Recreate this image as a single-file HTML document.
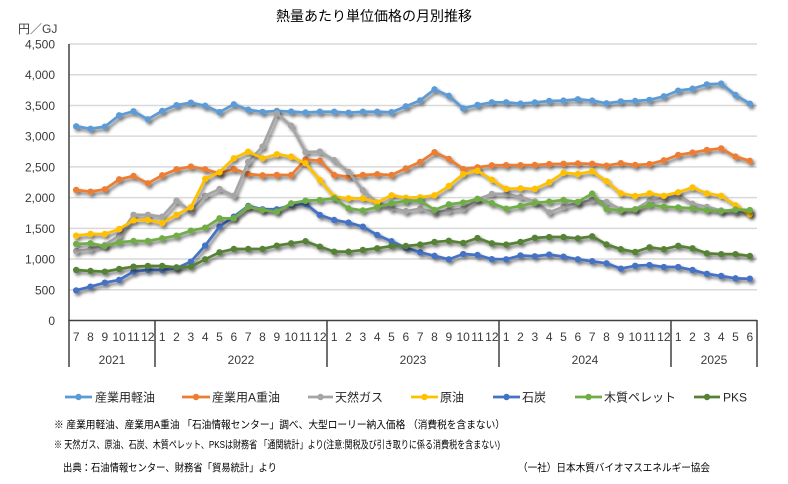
<!DOCTYPE html>
<html>
<head>
<meta charset="utf-8">
<style>
  html, body { margin:0; padding:0; background:#fff; }
  body { width:788px; height:484px; overflow:hidden; }
  svg { display:block; font-family:"Liberation Sans","Noto Sans CJK JP",sans-serif; }
  .ax { fill:#3a3a3a; font-size:12px; }
  .lg { fill:#262626; font-size:12px; }
  .nt { fill:#000; font-size:10.5px; }
</style>
</head>
<body>
<svg id="chart" width="788" height="484" viewBox="0 0 788 484" xmlns="http://www.w3.org/2000/svg">
  <defs>
    <filter id="sh" x="-5%" y="-20%" width="115%" height="160%">
      <feGaussianBlur in="SourceAlpha" stdDeviation="1.5"/>
      <feOffset dx="2" dy="2.5" result="o"/>
      <feComponentTransfer><feFuncA type="linear" slope="0.55"/></feComponentTransfer>
      <feMerge><feMergeNode/><feMergeNode in="SourceGraphic"/></feMerge>
    </filter>
  </defs>
  <rect width="788" height="484" fill="#fff"/>
  <text x="374" y="21" text-anchor="middle" font-size="14" fill="#000">熱量あたり単位価格の月別推移</text>
  <text x="18" y="33" font-size="12" fill="#404040">円／GJ</text>
  <g id="grid"></g>
  <g id="series"></g>
  <g id="axes"></g>
  <g id="legend"></g>
  <text class="nt" x="54" y="428" textLength="451" lengthAdjust="spacingAndGlyphs">※ 産業用軽油、産業用A重油 「石油情報センター」調べ、大型ローリー納入価格 （消費税を含まない）</text>
  <text class="nt" x="54" y="448" textLength="446" lengthAdjust="spacingAndGlyphs">※ 天然ガス、原油、石炭、木質ペレット、PKSは財務省 「通関統計」より(注意:関税及び引き取りに係る消費税を含まない)</text>
  <text class="nt" x="63" y="471" textLength="214" lengthAdjust="spacingAndGlyphs">出典：石油情報センター、財務省「貿易統計」より</text>
  <text class="nt" x="518" y="471" textLength="192" lengthAdjust="spacingAndGlyphs">（一社）日本木質バイオマスエネルギー協会</text>
</svg>
<script>
(function(){
  var NS = "http://www.w3.org/2000/svg";
  function el(tag, attrs, parent, txt){
    var e = document.createElementNS(NS, tag);
    for (var k in attrs) e.setAttribute(k, attrs[k]);
    if (txt !== undefined) e.textContent = txt;
    parent.appendChild(e);
    return e;
  }
  var X = function(i){ return 69 + (i + 0.5) * 688 / 48; };
  var Y = function(v){ return 320.5 - v * 276.5 / 4500; };
  var grid = document.getElementById('grid');
  var axes = document.getElementById('axes');
  for (var v = 500; v <= 4500; v += 500) {
    el('line', {x1:69, x2:757, y1:Y(v), y2:Y(v), stroke:'#d9d9d9', 'stroke-width':1.5}, grid);
  }
  for (var v = 0; v <= 4500; v += 500) {
    var s = v >= 1000 ? (Math.floor(v/1000) + ',' + ('00' + (v%1000)).slice(-3)) : String(v);
    el('text', {x:55, y:Y(v)+4.5, 'text-anchor':'end', 'class':'ax'}, axes, s);
  }
  el('line', {x1:69, x2:69, y1:44, y2:321, stroke:'#404040', 'stroke-width':1.5}, axes);
  el('line', {x1:69, x2:757, y1:320.5, y2:320.5, stroke:'#404040', 'stroke-width':1.5}, axes);
  [69,155,327,499,671,757].forEach(function(x){
    el('line', {x1:x, x2:x, y1:320, y2:367, stroke:'#404040', 'stroke-width':1.5}, axes);
  });
  var months = [7,8,9,10,11,12];
  for (var y = 0; y < 3; y++) for (var m = 1; m <= 12; m++) months.push(m);
  for (var m = 1; m <= 6; m++) months.push(m);
  months.forEach(function(m, i){
    el('text', {x:X(i), y:341, 'text-anchor':'middle', 'class':'ax'}, axes, String(m));
  });
  [[112,'2021'],[241,'2022'],[413,'2023'],[585,'2024'],[714,'2025']].forEach(function(a){
    el('text', {x:a[0], y:364, 'text-anchor':'middle', 'class':'ax'}, axes, a[1]);
  });

  var data = [
    ['#5B9BD5', [3160,3120,3155,3340,3405,3275,3410,3505,3545,3495,3392,3518,3430,3395,3410,3400,3385,3398,3398,3382,3398,3398,3390,3485,3582,3762,3656,3453,3508,3550,3550,3530,3548,3573,3579,3600,3579,3535,3565,3573,3590,3648,3741,3772,3842,3855,3670,3528]],
    ['#ED7D31', [2124,2097,2135,2297,2352,2233,2363,2460,2505,2460,2393,2466,2385,2363,2368,2368,2620,2600,2368,2340,2368,2380,2368,2475,2580,2740,2630,2465,2492,2525,2528,2528,2531,2545,2550,2555,2550,2520,2560,2531,2545,2606,2694,2732,2775,2801,2667,2598]],
    ['#A5A5A5', [1130,1160,1230,1380,1720,1720,1690,1950,1780,2030,2140,2030,2580,2830,3370,3170,2740,2750,2610,2420,2120,1920,1830,1780,1820,1760,1790,1820,1970,2060,2060,2010,1940,1760,1850,1910,1960,1930,1810,1810,1950,1990,2040,1900,1850,1790,1770,1755]],
    ['#FFC000', [1381,1408,1408,1489,1630,1636,1587,1722,1845,2305,2414,2640,2748,2640,2705,2668,2558,2287,2015,1988,1988,1923,2038,1998,2005,2038,2189,2384,2439,2292,2143,2151,2143,2250,2405,2385,2428,2268,2070,2026,2070,2030,2087,2165,2070,2030,1875,1730]],
    ['#4472C4', [490,551,616,660,795,822,822,850,958,1220,1527,1690,1864,1810,1810,1880,1900,1717,1636,1593,1527,1392,1290,1185,1110,1052,995,1082,1066,998,996,1058,1045,1072,1039,996,965,931,844,890,903,870,870,822,760,724,686,680]],
    ['#70AD47', [1245,1256,1213,1272,1294,1294,1337,1381,1462,1511,1663,1663,1852,1798,1771,1907,1950,1960,1988,1826,1790,1844,1910,1940,1950,1800,1890,1920,1980,1910,1820,1866,1915,1934,1961,1930,2065,1815,1790,1810,1880,1853,1840,1826,1795,1780,1805,1798]],
    ['#548235', [822,806,795,838,876,887,887,865,876,996,1110,1164,1164,1164,1218,1256,1290,1202,1120,1120,1148,1175,1213,1213,1235,1278,1297,1262,1342,1256,1235,1278,1345,1358,1358,1337,1370,1237,1160,1115,1191,1160,1215,1175,1093,1080,1080,1050]]
  ];
  var sg = document.getElementById('series');
  data.forEach(function(d){
    var g = el('g', {filter:'url(#sh)'}, sg);
    var pts = d[1].map(function(v,i){ return X(i).toFixed(2)+','+Y(v).toFixed(2); }).join(' ');
    el('polyline', {points:pts, fill:'none', stroke:d[0], 'stroke-width':2.75, 'stroke-linejoin':'round', 'stroke-linecap':'round'}, g);
    d[1].forEach(function(v,i){
      el('circle', {cx:X(i).toFixed(2), cy:Y(v).toFixed(2), r:3.2, fill:d[0]}, g);
    });
  });

  var lg = document.getElementById('legend');
  var items = [
    [65,92,95,'産業用軽油'],
    [182,210,212,'産業用A重油'],
    [308,333,335,'天然ガス'],
    [411,438,440,'原油'],
    [493,520,522,'石炭'],
    [575,602,604,'木質ペレット'],
    [694,720,723,'PKS']
  ];
  items.forEach(function(it, k){
    var c = data[k][0];
    el('line', {x1:it[0], x2:it[1], y1:397, y2:397, stroke:c, 'stroke-width':2.75}, lg);
    el('circle', {cx:(it[0]+it[1])/2, cy:397, r:3.2, fill:c}, lg);
    el('text', {x:it[2], y:401.5, 'class':'lg'}, lg, it[3]);
  });
})();
</script>
</body>
</html>
